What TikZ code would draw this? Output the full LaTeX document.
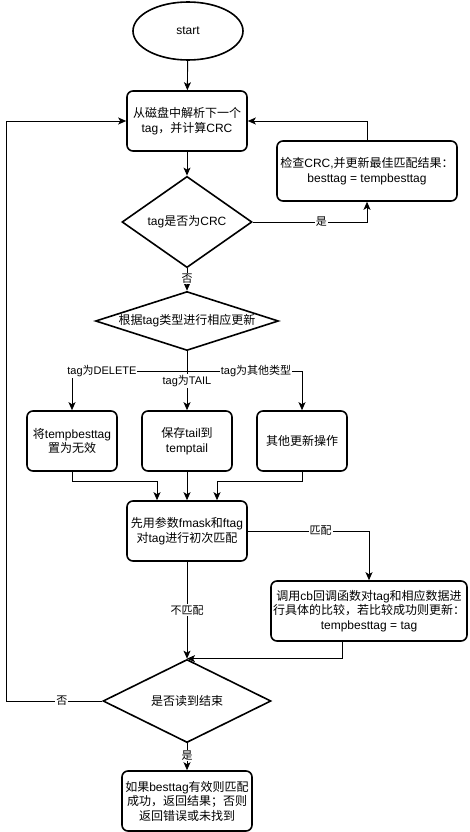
\documentclass[tikz,border=0pt]{standalone}
\usepackage{fontspec}
\setmainfont{Liberation Sans}
\newfontfamily\cjk{Noto Sans CJK SC}
\newcommand{\zh}[1]{{\cjk #1}}
\usetikzlibrary{shapes.geometric,arrows.meta}

\begin{document}
\begin{tikzpicture}[x=1pt,y=-1pt,
  every node/.style={font=\fontsize{12}{14.5}\selectfont},
  procbox/.style={draw,line width=1.6pt,rounded corners=6pt,minimum width=#1,minimum height=60pt,align=center,inner sep=1pt},
  decision/.style={draw,diamond,line width=1.6pt,inner sep=0pt},
  arrow/.style={-{Stealth[length=8pt,width=7pt,inset=2pt]},line width=0.9pt},
  lbl/.style={fill=white,inner sep=1pt,font=\fontsize{11}{13}\selectfont}]
\useasboundingbox (0,0) rectangle (469,832);

% shapes
\node[draw,ellipse,line width=1.6pt,minimum width=110pt,minimum height=58pt] (start) at (188,31) {start};
\node[procbox=120pt] (parse) at (187,121) {\zh{从磁盘中解析下一个}\\tag\zh{，并计算}CRC};
\node[decision,minimum width=130pt,minimum height=80pt] (iscrc) at (187,222) {tag\zh{是否为}CRC};
\node[procbox=180pt] (check) at (367,171) {\zh{检查}CRC,\zh{并更新最佳匹配结果：}\\besttag = tempbesttag};
\node[decision,aspect=3.1,minimum width=183pt,minimum height=59pt] (type) at (187,321) {\zh{根据}tag\zh{类型进行相应更新}};
\node[procbox=90pt] (del) at (72,441) {\zh{将}tempbesttag\\\zh{置为无效}};
\node[procbox=90pt] (tail) at (187,441) {\zh{保存}tail\zh{到}\\temptail};
\node[procbox=90pt] (other) at (302,441) {\zh{其他更新操作}};
\node[procbox=120pt] (fmask) at (187,531) {\zh{先用参数}fmask\zh{和}ftag\\\zh{对}tag\zh{进行初次匹配}};
\node[procbox=196pt] (cb) at (369,611) {\zh{调用}cb\zh{回调函数对}tag\zh{和相应数据进}\\\zh{行具体的比较，若比较成功则更新：}\\tempbesttag = tag};
\node[decision,minimum width=168pt,minimum height=80pt] (isend) at (187,701) {\zh{是否读到结束}};
\node[procbox=130pt] (result) at (187,801) {\zh{如果}besttag\zh{有效则匹配}\\\zh{成功，返回结果；否则}\\\zh{返回错误或未找到}};

% connectors
\draw[arrow] (start) -- (parse);
\draw[arrow] (parse) -- (iscrc);
\draw[arrow] (iscrc.east) -| node[lbl,pos=0.3] {\zh{是}} (check.south);
\draw[arrow] (check.north) |- (parse.east);
\draw[arrow] (iscrc) -- node[lbl,pos=0.45] {\zh{否}} (type);

\draw[arrow] (type.south) -- ++(0,20) -| node[lbl,pos=0.37] {tag\zh{为}DELETE} (del.north);
\draw[arrow] (type) -- node[lbl,pos=0.5] {tag\zh{为}TAIL} (tail);
\draw[arrow] (type.south) -- ++(0,20) -| node[lbl,pos=0.3] {tag\zh{为其他类型}} (other.north);

\draw[arrow] (del.south) -- ++(0,10) -| ([xshift=-30pt]fmask.north);
\draw[arrow] (tail) -- (fmask);
\draw[arrow] (other.south) -- ++(0,10) -| ([xshift=30pt]fmask.north);

\draw[arrow] (fmask.east) -| node[lbl,pos=0.3] {\zh{匹配}} (cb.north);
\draw[arrow] (fmask) -- node[lbl,pos=0.5] {\zh{不匹配}} (isend);
\draw[arrow] ([xshift=-27pt]cb.south) |- (isend.north);

\draw[arrow] (isend.west) -- ++(-96,0) node[lbl,pos=0.42] {\zh{否}} |- (parse.west);
\draw[arrow] (isend) -- node[lbl,pos=0.45] {\zh{是}} (result);

\end{tikzpicture}
\end{document}
